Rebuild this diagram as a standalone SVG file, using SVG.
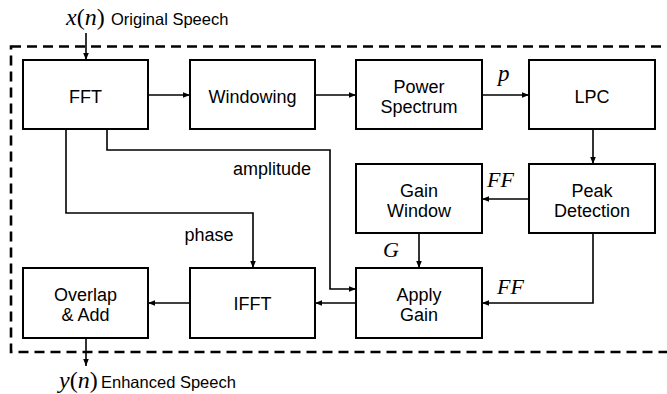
<svg xmlns="http://www.w3.org/2000/svg" width="667" height="394" viewBox="0 0 667 394">
<style>
.box{fill:#fff;stroke:#000;stroke-width:2}
.lbl{font-family:"Liberation Sans",Arial,sans-serif;font-size:18px;fill:#000;text-anchor:middle}
.sm{font-family:"Liberation Sans",Arial,sans-serif;font-size:16.5px;fill:#000}
.math{font-family:"Liberation Serif","Times New Roman",serif;font-style:italic;fill:#000}
.up{font-style:normal}
.wire{fill:none;stroke:#000;stroke-width:1.6}
</style>
<defs>
<marker id="ah" viewBox="0 0 10 10" refX="10" refY="5" markerWidth="7" markerHeight="7" markerUnits="userSpaceOnUse" orient="auto">
<path d="M0,1 L10,5 L0,9 Z" fill="#000"/>
</marker>
</defs>
<rect width="667" height="394" fill="#fff"/>
<rect x="11" y="46.5" width="680" height="305.5" fill="none" stroke="#000" stroke-width="2.6" stroke-dasharray="10 6"/>

<g id="connectors">
<path class="wire" d="M86,33 V60" marker-end="url(#ah)"/>
<path class="wire" d="M148,95 H190" marker-end="url(#ah)"/>
<path class="wire" d="M315,95 H356" marker-end="url(#ah)"/>
<path class="wire" d="M482,95 H529" marker-end="url(#ah)"/>
<path class="wire" d="M593,129 V164" marker-end="url(#ah)"/>
<path class="wire" d="M529,199 H482" marker-end="url(#ah)"/>
<path class="wire" d="M419,233 V268" marker-end="url(#ah)"/>
<path class="wire" d="M593,233 V303 H482" marker-end="url(#ah)"/>
<path class="wire" d="M66,129 V213 H253 V268" marker-end="url(#ah)"/>
<path class="wire" d="M107,129 V150 H330 V289 H356" marker-end="url(#ah)"/>
<path class="wire" d="M356,303 H315" marker-end="url(#ah)"/>
<path class="wire" d="M190,303 H148" marker-end="url(#ah)"/>
<path class="wire" d="M86,338 V366" marker-end="url(#ah)"/>
<text class="lbl" x="272" y="175">amplitude</text>
<text class="lbl" x="209" y="241">phase</text>
<text class="math" x="498" y="81" font-size="23">p</text>
<text class="math" x="487" y="187" font-size="22">FF</text>
<text class="math" x="497" y="294" font-size="22">FF</text>
<text class="math" x="383" y="257" font-size="22">G</text>
</g>

<g id="input">
<text class="math" x="66" y="25" font-size="24">x<tspan class="up">(</tspan>n<tspan class="up">)</tspan></text>
<text class="sm" x="111" y="25">Original Speech</text>
</g>
<g id="output">
<text class="math" x="59" y="388" font-size="24">y<tspan class="up">(</tspan>n<tspan class="up">)</tspan></text>
<text class="sm" x="101" y="388">Enhanced Speech</text>
</g>

<g id="fft"><rect class="box" x="23" y="60" width="125" height="69"/><text class="lbl" x="85.5" y="102.5">FFT</text></g>
<g id="windowing"><rect class="box" x="190" y="60" width="125" height="69"/><text class="lbl" x="252.5" y="102.5">Windowing</text></g>
<g id="power"><rect class="box" x="356" y="60" width="126" height="69"/><text class="lbl" x="419" y="92.5">Power</text><text class="lbl" x="419" y="112.5">Spectrum</text></g>
<g id="lpc"><rect class="box" x="529" y="60" width="126" height="69"/><text class="lbl" x="592" y="102.5">LPC</text></g>
<g id="peak"><rect class="box" x="529" y="164" width="126" height="69"/><text class="lbl" x="592" y="196.5">Peak</text><text class="lbl" x="592" y="216.5">Detection</text></g>
<g id="gainwin"><rect class="box" x="356" y="164" width="126" height="69"/><text class="lbl" x="419" y="196.5">Gain</text><text class="lbl" x="419" y="216.5">Window</text></g>
<g id="apply"><rect class="box" x="356" y="268" width="126" height="70"/><text class="lbl" x="419" y="300.5">Apply</text><text class="lbl" x="419" y="320.5">Gain</text></g>
<g id="ifft"><rect class="box" x="190" y="268" width="125" height="70"/><text class="lbl" x="252.5" y="310">IFFT</text></g>
<g id="overlap"><rect class="box" x="23" y="268" width="125" height="70"/><text class="lbl" x="85.5" y="300.5">Overlap</text><text class="lbl" x="85.5" y="321">&amp; Add</text></g>
</svg>
